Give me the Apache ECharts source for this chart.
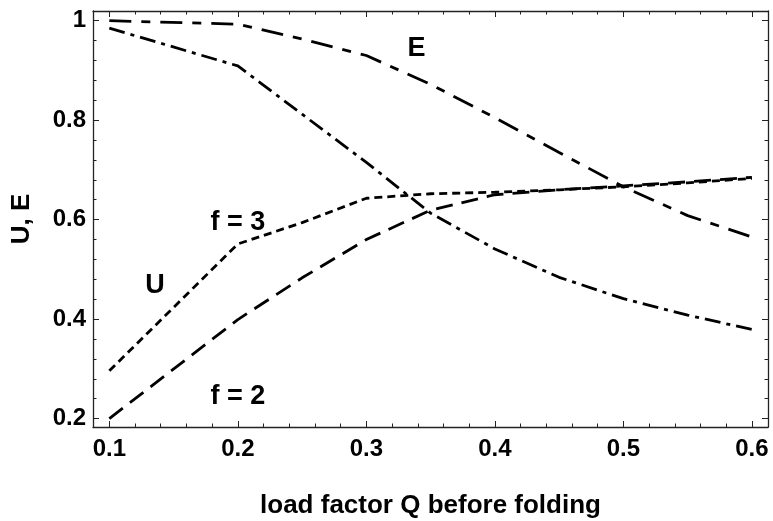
<!DOCTYPE html>
<html lang="en">
<head>
	<meta charset="UTF-8">
	<title>U, E vs load factor Q</title>
	<script src="https://cdn.jsdelivr.net/npm/echarts@6/dist/echarts.min.js"></script>
	<style>
		* {
			margin: 0;
			padding: 0;
		}

		#container {
			width: 773px;
			height: 521px;
			background: #fff;
		}
	</style>
</head>
<body>
<div id="container"></div>
<script type="text/javascript">
	// load factor Q before folding
	var q = [0.1, 0.2, 0.25, 0.3, 0.35, 0.4, 0.45, 0.5, 0.55, 0.6];
	// E curves
	var eF2 = [1.0, 0.993, 0.963, 0.930, 0.872, 0.805, 0.735, 0.666, 0.608, 0.565];
	var eF3 = [0.985, 0.909, 0.812, 0.715, 0.613, 0.541, 0.484, 0.441, 0.408, 0.379];
	// U curves
	var uF3 = [0.296, 0.551, 0.594, 0.643, 0.652, 0.655, 0.660, 0.666, 0.674, 0.683];
	var uF2 = [0.200, 0.399, 0.483, 0.560, 0.619, 0.650, 0.660, 0.668, 0.676, 0.685];

	var xTicks = [0.1, 0.2, 0.3, 0.4, 0.5, 0.6];
	var yTicks = [0.2, 0.4, 0.6, 0.8, 1];

	// text notes inside the plot: [text, Q, value]
	var notes = [
		['E', 0.339, 0.943],
		['f = 3', 0.2, 0.595],
		['U', 0.1356, 0.468],
		['f = 2', 0.2, 0.244]
	];

	var xMin = 0.0873, xMax = 0.6125, yMin = 0.183, yMax = 1.0195;

	// minor ticks (no labels)
	var xMinor = [], yMinor = [];
	for (var i = 0; i <= 25; i++) {
		if (i % 5) xMinor.push(Math.round((0.1 + i * 0.02) * 1000) / 1000);
	}
	for (var j = 0; j <= 20; j++) {
		if (j % 5) yMinor.push(Math.round((0.2 + j * 0.04) * 1000) / 1000);
	}

	var font = "'Liberation Sans', Arial, Helvetica, sans-serif";
	var ink = '#000';
	var frame = '#222';

	function axis(pos, gridIndex, min, max, ticks, len, line, labels) {
		return {
			type: 'value',
			gridIndex: gridIndex,
			position: pos,
			min: min,
			max: max,
			axisLine: {show: line, onZero: false, lineStyle: {color: frame, width: 1.3}},
			axisTick: {show: true, inside: true, length: len, customValues: ticks, lineStyle: {color: frame, width: 1}},
			axisLabel: labels ? {
				show: true,
				customValues: ticks,
				color: ink,
				fontFamily: font,
				fontWeight: 'bold',
				fontSize: 24,
				margin: pos === 'bottom' ? 10 : 7
			} : {show: false},
			splitLine: {show: false},
			minorTick: {show: false}
		};
	}

	var xBottom = axis('bottom', 0, xMin, xMax, xTicks, 6, true, true);
	xBottom.name = 'load factor Q before folding';
	xBottom.nameLocation = 'middle';
	xBottom.nameGap = 66;
	xBottom.nameTextStyle = {color: ink, fontFamily: font, fontWeight: 'bold', fontSize: 26};

	var yLeft = axis('left', 0, yMin, yMax, yTicks, 6, true, true);
	yLeft.name = 'U, E';
	yLeft.nameLocation = 'middle';
	yLeft.nameGap = 58;
	yLeft.nameTextStyle = {color: ink, fontFamily: font, fontWeight: 'bold', fontSize: 26};

	function pairs(ys) {
		return q.map(function (v, k) {
			return [v, ys[k]];
		});
	}

	function curve(name, ys, dash) {
		return {
			name: name,
			type: 'line',
			xAxisIndex: 0,
			yAxisIndex: 0,
			data: pairs(ys),
			symbol: 'none',
			smooth: false,
			silent: true,
			lineStyle: {color: ink, width: 2.8, type: dash, cap: 'butt'}
		};
	}

	var myChart = echarts.init(document.getElementById('container'), null, {renderer: 'canvas'});

	var option = {
		backgroundColor: '#fff',
		animation: false,
		grid: [
			{left: 93, right: 5, top: 11, bottom: 94, outerBoundsMode: 'none'},
			{left: 93, right: 5, top: 11, bottom: 94, outerBoundsMode: 'none'}
		],
		xAxis: [
			xBottom,
			axis('top', 0, xMin, xMax, xTicks, 6, true, false),
			axis('bottom', 1, xMin, xMax, xMinor, 3.5, false, false),
			axis('top', 1, xMin, xMax, xMinor, 3.5, false, false)
		],
		yAxis: [
			yLeft,
			axis('right', 0, yMin, yMax, yTicks, 6, true, false),
			axis('left', 1, yMin, yMax, yMinor, 3.5, false, false),
			axis('right', 1, yMin, yMax, yMinor, 3.5, false, false)
		],
		series: [
			curve('E, f = 2', eF2, [22, 10, 9, 10]),
			curve('E, f = 3', eF3, [16, 6, 4, 6]),
			curve('U, f = 3', uF3, [8, 5]),
			curve('U, f = 2', uF2, [17, 9]),
			{
				name: 'notes',
				type: 'scatter',
				silent: true,
				symbol: 'rect',
				symbolSize: 0,
				itemStyle: {color: '#fff'},
				data: notes.map(function (n) {
					return {name: n[0], value: [n[1], n[2]]};
				}),
				label: {
					show: true,
					position: 'inside',
					formatter: '{b}',
					color: ink,
					opacity: 1,
					textBorderWidth: 0,
					fontFamily: font,
					fontWeight: 'bold',
					fontSize: 27
				}
			}
		]
	};

	myChart.setOption(option);
</script>
</body>
</html>
